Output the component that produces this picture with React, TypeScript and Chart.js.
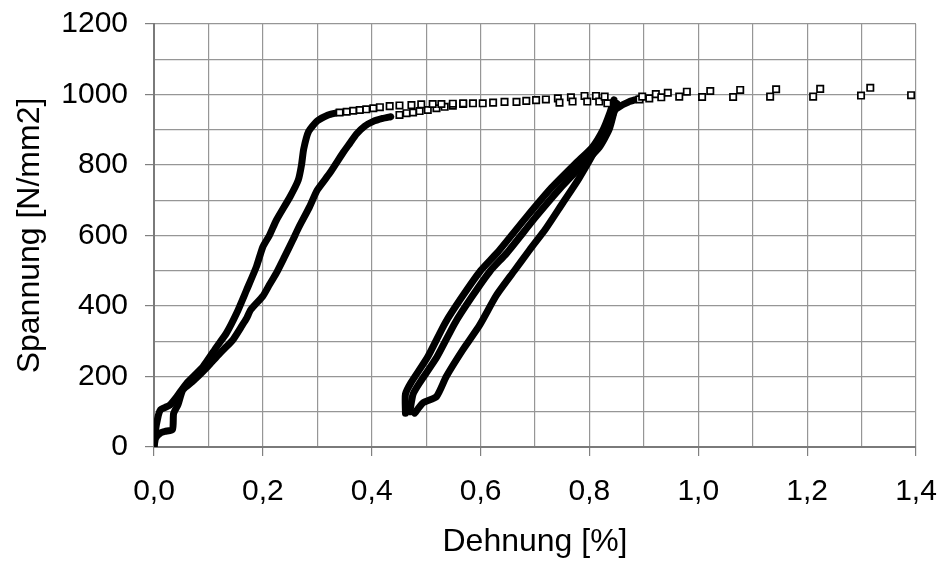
import React, { useEffect, useRef } from 'react';
import { Chart, registerables } from 'chart.js';

Chart.register(...registerables);

// Tick labels
const xTickLabels = ['0,0', '0,2', '0,4', '0,6', '0,8', '1,0', '1,2', '1,4'];
const yTickLabels = ['0', '200', '400', '600', '800', '1000', '1200'];

// Dense measurement runs, [Dehnung %, Spannung N/mm2]
const curveA: [number, number][] = [
  [0, 0], [0.002, 40], [0.008, 90], [0.012, 106], [0.02, 112], [0.029, 119], [0.042, 143],
  [0.06, 181], [0.09, 228], [0.115, 284], [0.133, 323], [0.152, 380], [0.17, 445],
  [0.188, 511], [0.2, 568], [0.212, 600], [0.225, 644], [0.25, 710], [0.265, 757],
  [0.271, 800], [0.275, 845], [0.284, 895], [0.3, 925], [0.32, 942], [0.335, 948],
];
const curveB: [number, number][] = [
  [0, 0], [0.003, 25], [0.012, 40], [0.02, 44], [0.034, 50], [0.036, 95], [0.044, 120],
  [0.053, 162], [0.07, 185], [0.084, 205], [0.1, 230], [0.115, 256], [0.13, 280],
  [0.145, 304], [0.162, 345], [0.17, 365], [0.178, 390], [0.2, 428], [0.212, 460],
  [0.225, 494], [0.24, 540], [0.255, 587], [0.265, 620], [0.286, 682], [0.3, 729],
  [0.323, 777], [0.347, 834], [0.36, 862], [0.372, 888], [0.387, 910], [0.402, 923],
  [0.42, 932], [0.435, 937],
];
const loop1: [number, number][] = [
  [0.462, 96], [0.462, 150], [0.472, 182], [0.503, 256], [0.535, 352], [0.566, 426],
  [0.6, 500], [0.63, 550], [0.683, 650], [0.73, 735], [0.775, 805], [0.805, 850],
  [0.825, 900], [0.838, 950], [0.845, 985],
];
const loop2: [number, number][] = [
  [0.47, 100], [0.476, 150], [0.488, 182], [0.52, 256], [0.553, 352], [0.584, 426],
  [0.618, 500], [0.648, 550], [0.7, 650], [0.747, 735], [0.79, 805], [0.818, 850],
  [0.836, 900], [0.845, 950], [0.848, 975],
];
const loop3: [number, number][] = [
  [0.479, 96], [0.494, 125], [0.519, 143], [0.537, 200], [0.567, 275], [0.598, 345],
  [0.629, 430], [0.662, 500], [0.69, 559], [0.72, 620], [0.75, 690], [0.78, 760],
  [0.81, 840], [0.83, 900], [0.845, 950], [0.85, 975],
];
const reload: [number, number][] = [
  [0.845, 955], [0.852, 962], [0.861, 971], [0.872, 979], [0.884, 985], [0.895, 990],
];

// Sparse measurement points (open squares)
const pointsA: [number, number][] = [
  [0.341, 949], [0.354, 951], [0.366, 954], [0.378, 956], [0.39, 958], [0.403, 961],
  [0.415, 964], [0.433, 967], [0.451, 969], [0.473, 970], [0.491, 972], [0.512, 973],
  [0.528, 973], [0.549, 974], [0.568, 975], [0.586, 975], [0.604, 975], [0.623, 977],
  [0.644, 979], [0.666, 979], [0.684, 982], [0.702, 984], [0.72, 986], [0.742, 989],
  [0.745, 977], [0.766, 992], [0.769, 980], [0.791, 996], [0.796, 980], [0.812, 996],
  [0.818, 980], [0.828, 994], [0.833, 975],
];
const pointsB: [number, number][] = [
  [0.451, 942], [0.464, 947], [0.476, 949], [0.488, 953], [0.503, 956], [0.519, 961],
  [0.534, 965], [0.549, 968], [0.568, 973],
];
const pointsTail: [number, number][] = [
  [0.892, 986], [0.897, 994], [0.91, 989], [0.922, 1001], [0.932, 992], [0.944, 1005],
  [0.965, 994], [0.979, 1008], [1.007, 993], [1.022, 1010], [1.064, 993], [1.077, 1013],
  [1.132, 994], [1.143, 1015], [1.211, 994], [1.224, 1016], [1.299, 997], [1.316, 1019],
  [1.391, 998],
];

const FONT = "'Liberation Sans', Arial, Helvetica, sans-serif";

export default function App() {
  const ref = useRef<HTMLCanvasElement>(null);

  useEffect(() => {
    if (!ref.current) return;
    const toPts = (a: [number, number][]) => a.map(([x, y]) => ({ x, y }));
    const lineDs = (a: [number, number][]) => ({
      data: toPts(a),
      showLine: true,
      borderColor: '#000',
      backgroundColor: '#000',
      borderWidth: 7,
      borderJoinStyle: 'round' as const,
      borderCapStyle: 'round' as const,
      pointRadius: 0,
      pointHoverRadius: 0,
      tension: 0.2,
      fill: false,
    });
    const ptDs = (a: [number, number][]) => ({
      data: toPts(a),
      showLine: false,
      pointStyle: 'rect' as const,
      pointRadius: 4.5,
      pointBorderWidth: 1.7,
      pointBorderColor: '#000',
      pointBackgroundColor: '#fff',
    });

    const chart = new Chart(ref.current, {
      type: 'scatter',
      data: {
        datasets: [
          ptDs(pointsA), ptDs(pointsB), ptDs(pointsTail),
          lineDs(curveA), lineDs(curveB), lineDs(loop1), lineDs(loop2), lineDs(loop3), lineDs(reload),
        ],
      },
      options: {
        animation: false,
        responsive: true,
        maintainAspectRatio: false,
        layout: { autoPadding: false, padding: { left: 0, top: 24, right: 25, bottom: 0 } },
        plugins: { legend: { display: false }, tooltip: { enabled: false } },
        scales: {
          x: {
            type: 'linear',
            min: 0,
            max: 1.4,
            afterFit: (s: any) => {
              s.height = 114;
              s.paddingLeft = 0;
              s.paddingRight = 0;
            },
            ticks: {
              stepSize: 0.1,
              autoSkip: false,
              maxRotation: 0,
              padding: 18,
              color: '#000',
              font: { family: FONT, size: 30 },
              callback: (_v: any, i: number) => (i % 2 === 0 ? xTickLabels[i / 2] : ''),
            },
            grid: {
              color: '#969696',
              lineWidth: 1.2,
              tickLength: 9,
              tickColor: (c: any) => (c.index % 2 === 0 ? '#808080' : 'rgba(0,0,0,0)'),
            },
            border: { color: '#7a7a7a', width: 2 },
            title: {
              display: true,
              text: 'Dehnung [%]',
              color: '#000',
              font: { family: FONT, size: 32 },
              padding: { top: 0, bottom: 0 },
            },
          },
          y: {
            type: 'linear',
            min: 0,
            max: 1200,
            afterFit: (s: any) => {
              s.width = 154;
              s.paddingTop = 0;
              s.paddingBottom = 0;
            },
            ticks: {
              stepSize: 100,
              autoSkip: false,
              padding: 17,
              color: '#000',
              font: { family: FONT, size: 30 },
              callback: (_v: any, i: number) => (i % 2 === 0 ? yTickLabels[i / 2] : ''),
            },
            grid: {
              color: '#969696',
              lineWidth: 1.2,
              tickLength: 9,
              tickColor: (c: any) => (c.index % 2 === 0 ? '#808080' : 'rgba(0,0,0,0)'),
            },
            border: { color: '#7a7a7a', width: 2 },
            title: {
              display: true,
              text: 'Spannung [N/mm2]',
              color: '#000',
              font: { family: FONT, size: 32 },
              padding: { top: 11, bottom: 0 },
            },
          },
        },
      },
    });
    return () => chart.destroy();
  }, []);

  return (
    <div style={{ position: 'fixed', left: 0, top: 0, width: 941, height: 561, background: '#fff' }}>
      <canvas ref={ref} />
    </div>
  );
}
